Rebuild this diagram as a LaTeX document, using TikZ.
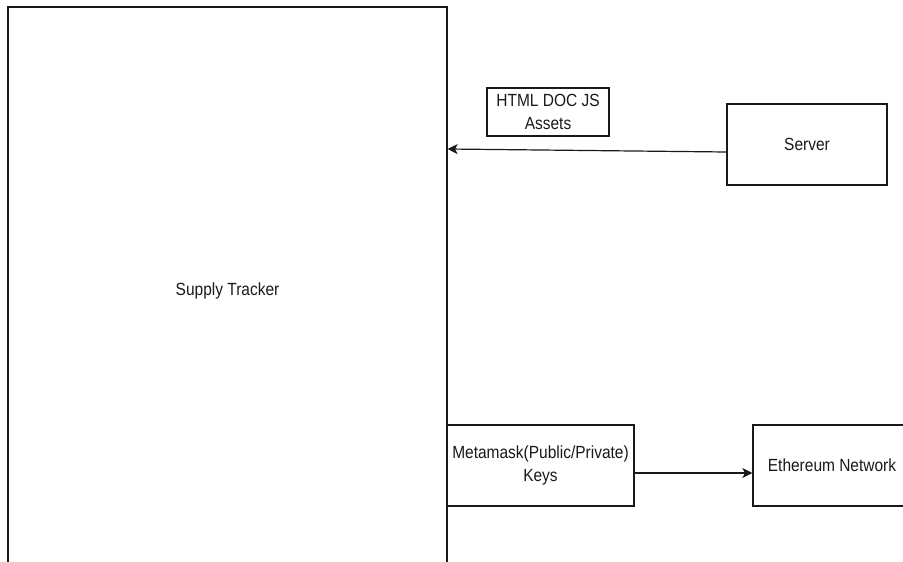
\documentclass[tikz,border=0pt]{standalone}
\usepackage{fontspec}
\setmainfont{Liberation Sans}[FakeStretch=0.88]
\usetikzlibrary{arrows.meta}

\begin{document}
\begin{tikzpicture}[
	x=1pt, y=-1pt,
	font=\fontsize{17.6}{23}\selectfont,
	>=Stealth,
	box/.style={draw=black!90, line width=1.2pt, inner sep=0pt,
		align=center, text=black!90},
	flow/.style={->, line width=1.2pt, black!90, >={Stealth[length=10pt,width=10pt,inset=2.5pt]}},
]

% ---- canvas (the big box runs past the bottom edge) ----
\useasboundingbox (0,0) rectangle (903,562);
\clip (0,0) rectangle (903,562);

% ---- main block ----
\node[box, minimum width=439, minimum height=568] (tracker) at (227.5,291) {Supply Tracker};

% ---- served assets ----
\node[box, minimum width=122, minimum height=48] (assets) at (548,112) {HTML DOC JS\\Assets};
\node[box, minimum width=160, minimum height=81] (server) at (807,144.5) {Server};
\draw[flow] ([yshift=-7.5pt]server.west) -- ([yshift=142pt]tracker.east);

% ---- wallet and chain ----
\node[box, minimum width=187, minimum height=81] (wallet) at (540.5,465.5) {Metamask(Public/Private)\\Keys};
\node[box, minimum width=158, minimum height=81] (chain) at (832,465.5) {Ethereum Network};
\draw[flow] ([yshift=-7.5pt]wallet.east) -- ([yshift=-7.5pt]chain.west);

\end{tikzpicture}
\end{document}
